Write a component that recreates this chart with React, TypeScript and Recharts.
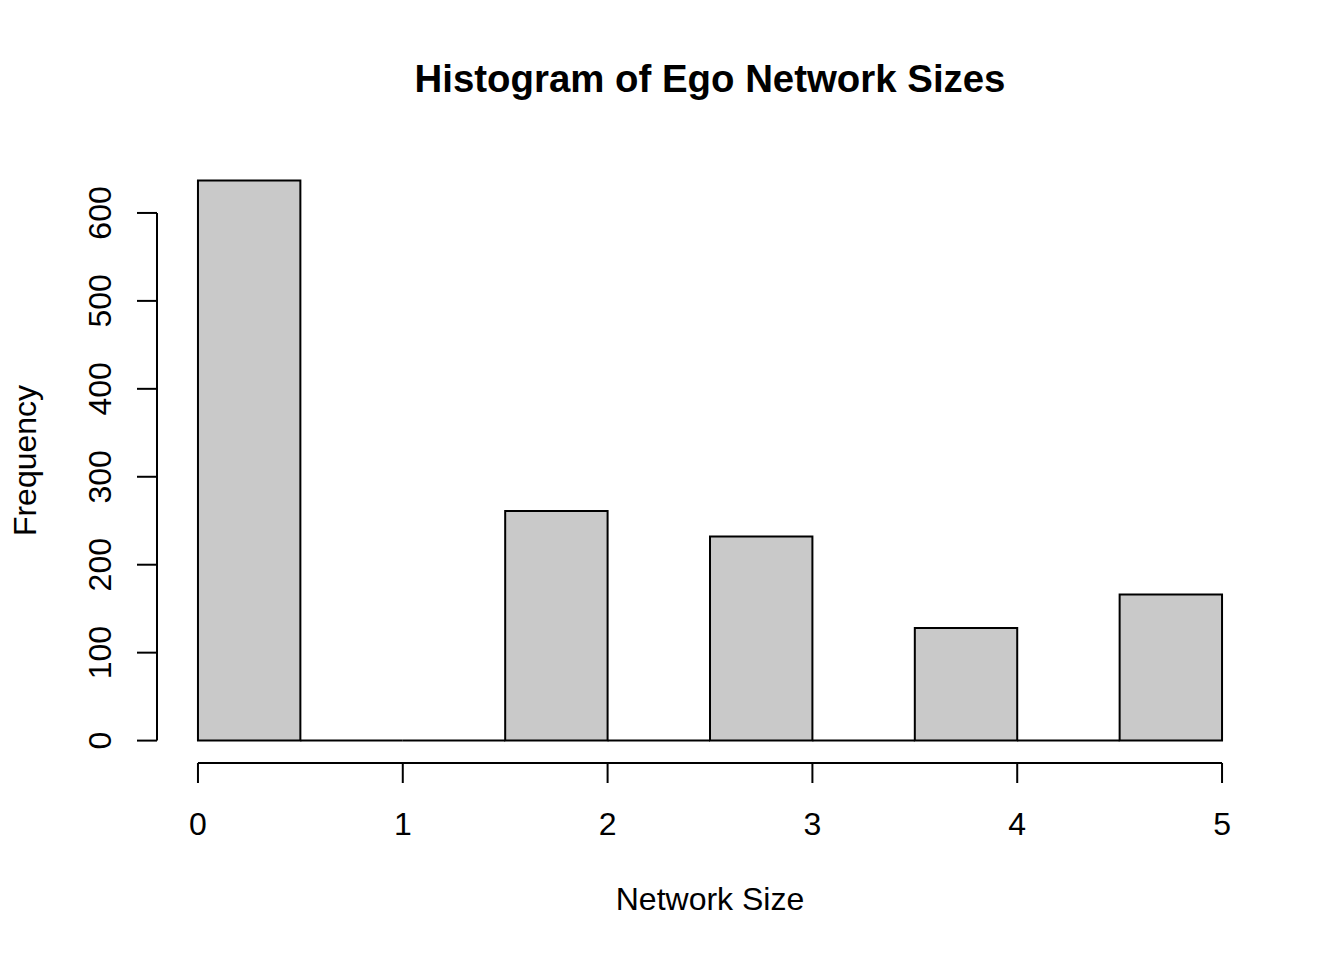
import {
  ComposedChart,
  Label,
  ReferenceArea,
  ReferenceLine,
  XAxis,
  YAxis,
} from "recharts";

// histogram bins of ego network sizes (width 0.5)
const binStarts = [0, 0.5, 1, 1.5, 2, 2.5, 3, 3.5, 4, 4.5];
const binEnds = [0.5, 1, 1.5, 2, 2.5, 3, 3.5, 4, 4.5, 5];
const binCounts = [637, 0, 0, 261, 0, 232, 0, 128, 0, 166];

const xTicks = [0, 1, 2, 3, 4, 5];
const yTicks = [0, 100, 200, 300, 400, 500, 600];

const bins = binStarts.map((start, i) => ({
  start,
  end: binEnds[i],
  count: binCounts[i],
}));

// R style axis ranges: data range padded by 4% on each side
const xMin = Math.min(...binStarts);
const xMax = Math.max(...binEnds);
const yMaxData = Math.max(...binCounts);
const xPad = (xMax - xMin) * 0.04;
const yPad = yMaxData * 0.04;
const xDomain: [number, number] = [xMin - xPad, xMax + xPad];
const yDomain: [number, number] = [-yPad, yMaxData + yPad];

const FONT = '"Liberation Sans", Arial, Helvetica, sans-serif';
const BAR_FILL = "#c9c9c9";

function XTick(props: any) {
  const { x, y, payload } = props;
  return (
    <text
      x={x}
      y={y + 52}
      textAnchor="middle"
      fontFamily={FONT}
      fontSize={32}
      fill="#000"
    >
      {payload.value}
    </text>
  );
}

function YTick(props: any) {
  const { x, y, payload } = props;
  const bx = x - 26;
  return (
    <text
      x={bx}
      y={y}
      transform={`rotate(-90, ${bx}, ${y})`}
      textAnchor="middle"
      fontFamily={FONT}
      fontSize={32}
      fill="#000"
    >
      {payload.value}
    </text>
  );
}

export default function App() {
  return (
    <div
      style={{
        position: "absolute",
        left: 0,
        top: 0,
        width: 1344,
        height: 960,
        background: "#fff",
      }}
    >
      <div
        style={{
          position: "absolute",
          left: 157,
          width: 1106,
          top: 59.5,
          textAlign: "center",
          fontFamily: FONT,
          fontWeight: "bold",
          fontSize: 38.4,
          lineHeight: 1,
          color: "#000",
        }}
      >
        Histogram of Ego Network Sizes
      </div>
      <ComposedChart
        width={1344}
        height={960}
        data={bins}
        margin={{ top: 158, right: 81, bottom: 0, left: 0 }}
        style={{ position: "absolute", left: 0, top: 0 }}
      >
        <XAxis
          type="number"
          dataKey="start"
          domain={xDomain}
          allowDataOverflow
          ticks={xTicks}
          interval={0}
          height={197}
          axisLine={false}
          tickSize={20}
          tickMargin={0}
          tickLine={{ stroke: "#000", strokeWidth: 2 }}
          tick={<XTick />}
        >
          <Label
            content={(p: any) => {
              const vb = p.viewBox;
              return (
                <text
                  x={vb.x + vb.width / 2}
                  y={vb.y + 147}
                  textAnchor="middle"
                  fontFamily={FONT}
                  fontSize={32}
                  fill="#000"
                >
                  Network Size
                </text>
              );
            }}
          />
        </XAxis>
        <YAxis
          type="number"
          domain={yDomain}
          allowDataOverflow
          ticks={yTicks}
          interval={0}
          width={157}
          axisLine={false}
          tickSize={20}
          tickMargin={0}
          tickLine={{ stroke: "#000", strokeWidth: 2 }}
          tick={<YTick />}
        >
          <Label
            content={(p: any) => {
              const vb = p.viewBox;
              const cx = vb.x + 36;
              const cy = vb.y + vb.height / 2;
              return (
                <text
                  x={cx}
                  y={cy}
                  transform={`rotate(-90, ${cx}, ${cy})`}
                  textAnchor="middle"
                  fontFamily={FONT}
                  fontSize={32}
                  fill="#000"
                >
                  Frequency
                </text>
              );
            }}
          />
        </YAxis>

        {bins
          .filter((b) => b.count > 0)
          .map((b) => (
            <ReferenceArea
              key={`bar-${b.start}`}
              x1={b.start}
              x2={b.end}
              y1={0}
              y2={b.count}
              fill={BAR_FILL}
              fillOpacity={1}
              stroke="#000"
              strokeWidth={2}
              ifOverflow="visible"
            />
          ))}
        {bins
          .filter((b) => b.count === 0)
          .map((b) => (
            <ReferenceLine
              key={`empty-${b.start}`}
              segment={[
                { x: b.start, y: 0 },
                { x: b.end, y: 0 },
              ]}
              stroke="#000"
              strokeWidth={2}
              ifOverflow="visible"
            />
          ))}

        {/* detached R-style axis lines */}
        <ReferenceLine
          segment={[
            { x: xTicks[0], y: yDomain[0] },
            { x: xTicks[xTicks.length - 1], y: yDomain[0] },
          ]}
          stroke="#000"
          strokeWidth={2}
          ifOverflow="visible"
        />
        <ReferenceLine
          segment={[
            { x: xDomain[0], y: yTicks[0] },
            { x: xDomain[0], y: yTicks[yTicks.length - 1] },
          ]}
          stroke="#000"
          strokeWidth={2}
          ifOverflow="visible"
        />
      </ComposedChart>
    </div>
  );
}
